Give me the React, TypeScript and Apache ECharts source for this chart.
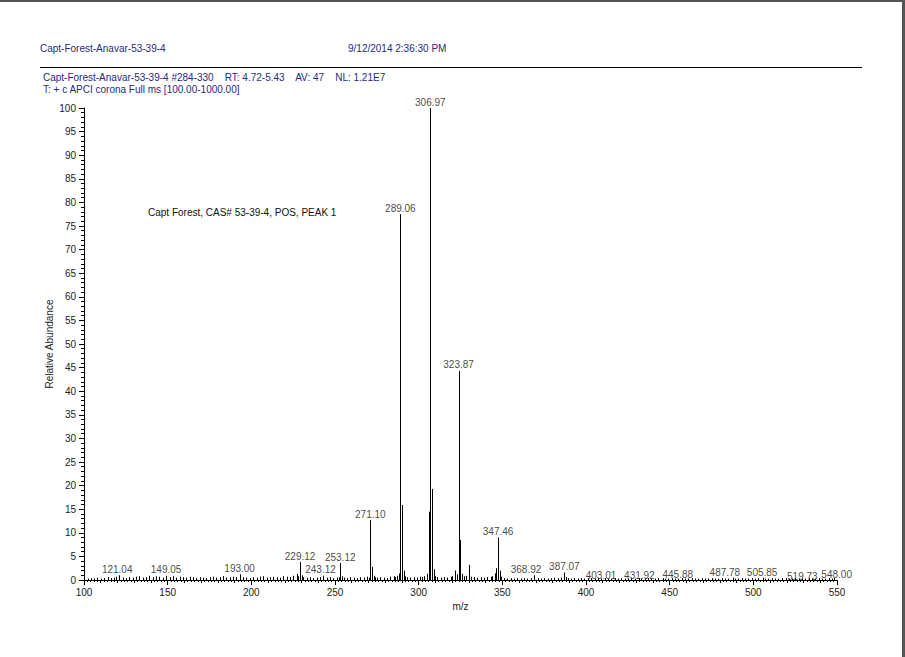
import React, { useEffect, useRef } from "react";
import * as echarts from "echarts";

// m/z of every peak (major + baseline noise)
const peakMz = [
  102.1, 104.0, 106.1, 108.0, 110.1, 112.0, 114.1, 116.0, 118.1, 119.1,
  121.04, 123.1, 125.0, 127.1, 129.0, 131.1, 133.1, 135.0, 137.1, 139.1,
  141.0, 143.1, 145.1, 147.0, 149.05, 151.1, 153.1, 155.0, 157.1, 159.1,
  161.0, 163.1, 165.1, 167.0, 169.1, 171.1, 173.0, 175.1, 177.1, 179.0,
  181.1, 183.1, 185.0, 187.1, 189.1, 191.0, 193.0, 195.1, 197.1, 199.0,
  201.1, 203.1, 205.0, 207.1, 209.1, 211.0, 213.1, 215.1, 217.0, 219.1,
  221.1, 223.0, 225.1, 227.1, 228.1, 229.12, 230.1, 231.1, 233.0, 235.1,
  237.1, 239.0, 241.1, 243.12, 245.1, 247.1, 249.0, 251.1, 252.1, 253.12,
  254.1, 255.1, 257.0, 259.1, 261.1, 263.0, 265.1, 267.1, 269.1, 270.1,
  271.1, 272.1, 273.1, 274.1, 275.0, 277.1, 279.1, 281.0, 283.1, 285.1,
  286.1, 287.1, 288.1, 289.06, 290.06, 291.0, 292.1, 293.1, 295.0, 297.1,
  299.1, 301.0, 302.1, 303.1, 304.9, 305.97, 306.97, 307.97, 308.97, 310.0,
  311.1, 313.1, 315.0, 317.1, 319.1, 320.1, 321.9, 322.9, 323.87, 324.87,
  325.9, 327.1, 328.1, 329.9, 331.0, 333.1, 335.1, 337.0, 339.1, 341.1,
  343.0, 344.1, 345.5, 346.5, 347.46, 348.5, 349.1,
  351.1, 353.0, 355.1, 357.1, 359.0, 361.1, 363.1, 365.0, 367.1, 368.92,
  371.1, 373.0, 375.1, 377.1, 379.0, 381.1, 383.1, 385.0, 387.07, 388.1,
  389.1, 391.0, 393.1, 395.1, 397.0, 399.1, 401.1, 403.01, 405.1, 407.0,
  409.1, 411.1, 413.0, 415.1, 417.1, 419.0, 421.1, 423.1, 425.0, 427.1,
  429.1, 431.92, 433.1, 435.0, 437.1, 439.1, 441.0, 443.1, 445.88, 447.1,
  449.0, 451.1, 453.1, 455.0, 457.1, 459.1, 461.0, 463.1, 465.1, 467.0,
  469.1, 471.1, 473.0, 475.1, 477.1, 479.0, 481.1, 483.1, 485.0, 487.78,
  489.1, 491.0, 493.1, 495.1, 497.0, 499.1, 501.1, 503.0, 505.85, 507.1,
  509.0, 511.1, 513.1, 515.0, 517.1, 519.73, 521.1, 523.0, 525.1, 527.1,
  529.0, 531.1, 533.1, 535.0, 537.1, 539.1, 541.0, 543.1, 545.1, 546.9,
  548.0,
];

// relative abundance (%) of each peak, same order as peakMz
const peakAbundance = [
  0.3, 0.4, 0.3, 0.5, 0.3, 0.4, 0.6, 0.4, 0.5, 0.7,
  1.0, 0.5, 0.4, 0.6, 0.5, 0.7, 0.8, 0.5, 0.6, 0.9,
  0.6, 0.8, 0.7, 0.5, 0.9, 0.6, 0.8, 0.5, 0.7, 0.6,
  0.5, 0.7, 0.6, 0.4, 0.6, 0.5, 0.4, 0.6, 0.7, 0.5,
  0.6, 0.8, 0.5, 0.6, 0.7, 0.6, 1.2, 0.6, 0.5, 0.4,
  0.6, 0.5, 0.7, 0.8, 0.5, 0.6, 0.7, 0.6, 0.5, 0.8,
  0.7, 0.6, 0.9, 1.3, 0.8, 3.8, 1.0, 0.6, 0.5, 0.6,
  0.4, 0.5, 0.6, 0.9, 0.5, 0.6, 0.4, 0.5, 0.6, 3.6,
  0.8, 0.5, 0.4, 0.6, 0.5, 0.4, 0.6, 0.5, 0.7, 0.5,
  12.7, 2.8, 0.9, 0.6, 0.5, 0.6, 0.5, 0.4, 0.7, 0.8,
  0.6, 0.9, 1.4, 77.5, 15.9, 2.0, 0.8, 0.6, 0.5, 0.6,
  0.5, 0.7, 0.6, 0.8, 1.3, 14.5, 100, 19.3, 2.3, 0.8,
  0.6, 0.5, 0.6, 0.5, 0.7, 0.8, 2.0, 1.2, 44.3, 8.5,
  1.3, 0.8, 0.9, 3.2, 0.7, 0.6, 0.5, 0.6, 0.5, 0.6,
  0.7, 0.8, 1.4, 2.5, 9.0, 2.0, 0.7,
  0.4, 0.3, 0.4, 0.3, 0.4, 0.3, 0.4, 0.3, 0.4, 1.0,
  0.4, 0.3, 0.4, 0.3, 0.4, 0.5, 0.4, 0.5, 1.6, 0.6,
  0.4, 0.3, 0.4, 0.3, 0.4, 0.3, 0.4, 0.4, 0.3, 0.4,
  0.3, 0.4, 0.3, 0.3, 0.4, 0.3, 0.4, 0.3, 0.3, 0.4,
  0.3, 0.4, 0.3, 0.3, 0.4, 0.3, 0.3, 0.4, 0.4, 0.3,
  0.3, 0.4, 0.3, 0.3, 0.4, 0.3, 0.3, 0.4, 0.3, 0.3,
  0.4, 0.3, 0.3, 0.4, 0.3, 0.3, 0.4, 0.3, 0.3, 0.5,
  0.3, 0.3, 0.4, 0.3, 0.3, 0.4, 0.3, 0.4, 0.5, 0.3,
  0.3, 0.4, 0.3, 0.3, 0.4, 0.4, 0.3, 0.3, 0.4, 0.3,
  0.3, 0.3, 0.4, 0.3, 0.3, 0.4, 0.3, 0.3, 0.4, 0.3,
  0.4,
];

// peaks that carry an m/z label
const labeledMz = [
  121.04, 149.05, 193.0, 229.12, 243.12, 253.12, 271.1, 289.06, 306.97, 323.87,
  347.46, 368.92, 387.07, 403.01, 431.92, 445.88, 487.78, 505.85, 519.73, 548.0,
];

// label nudges in pixels [dx, dy] so crowded baseline labels sit apart (style only)
const labelNudge: [number, number][] = [
  [-2, 0], [0, 0], [0, 0], [0, 0], [-3, 0], [0, 0], [0, 0], [0, 0], [0, 0], [0, 0],
  [0, 0], [-8, 0], [0, 0], [10, 3], [0, 3], [15, 2], [-8, 1], [-1, 1], [16, 4], [3, 2],
];

const yTicks = { min: 0, max: 100, step: 5 };
const xTicks = { min: 100, max: 550, step: 10, labelStep: 50 };

const headerTitle = "Capt-Forest-Anavar-53-39-4";
const headerDate = "9/12/2014 2:36:30 PM";
const infoLine1 = "Capt-Forest-Anavar-53-39-4 #284-330    RT: 4.72-5.43    AV: 47    NL: 1.21E7";
const infoLine2 = "T: + c APCI corona Full ms [100.00-1000.00]";
const annotation = "Capt Forest, CAS# 53-39-4, POS, PEAK 1";

export default function App() {
  const ref = useRef<HTMLDivElement>(null);

  useEffect(() => {
    if (!ref.current) return;
    const chart = echarts.init(ref.current, undefined, { renderer: "svg" });
    const peaks = peakMz.map((m, i) => [m, peakAbundance[i]]);
    const labelData = labeledMz.map((m, k) => {
      const i = peakMz.indexOf(m);
      return { value: [m, peakAbundance[i]], label: { offset: labelNudge[k] } };
    });
    const font = "'Liberation Sans', Arial, sans-serif";
    const navy = "#1f2a80";

    chart.setOption({
      animation: false,
      backgroundColor: "#ffffff",
      textStyle: { fontFamily: font },
      grid: { left: 84, right: 68, top: 108, bottom: 77, containLabel: false },
      xAxis: [
        {
          type: "value",
          min: xTicks.min,
          max: xTicks.max,
          interval: xTicks.step,
          name: "m/z",
          nameLocation: "middle",
          nameGap: 21,
          nameTextStyle: { color: "#222", fontSize: 10, fontFamily: font },
          axisLine: { show: true, lineStyle: { color: "#000", width: 1 } },
          axisTick: { show: true, length: 3, lineStyle: { color: "#000" } },
          minorTick: { show: true, splitNumber: 5, length: 2, lineStyle: { color: "#000" } },
          axisLabel: {
            color: "#222",
            fontSize: 10,
            fontFamily: font,
            margin: 7,
            formatter: (v: number) => (v % xTicks.labelStep === 0 ? String(v) : ""),
          },
          splitLine: { show: false },
        },
        {
          type: "value",
          min: xTicks.min,
          max: xTicks.max,
          interval: xTicks.labelStep,
          position: "bottom",
          axisLine: { show: false },
          axisTick: { show: true, length: 5, lineStyle: { color: "#000" } },
          axisLabel: { show: false },
          splitLine: { show: false },
        },
      ],
      yAxis: {
        type: "value",
        min: yTicks.min,
        max: yTicks.max,
        interval: yTicks.step,
        name: "Relative Abundance",
        nameLocation: "middle",
        nameGap: 30,
        nameMoveOverlap: false,
        nameTextStyle: { color: "#222", fontSize: 10, fontFamily: font },
        axisLine: { show: true, lineStyle: { color: "#000", width: 1 } },
        axisTick: { show: true, length: 5, lineStyle: { color: "#000" } },
        minorTick: { show: true, splitNumber: 5, length: 3, lineStyle: { color: "#000" } },
        axisLabel: { color: "#222", fontSize: 10, fontFamily: font, margin: 8 },
        splitLine: { show: false },
      },
      series: [
        {
          type: "custom",
          xAxisIndex: 0,
          coordinateSystem: "cartesian2d",
          data: peaks,
          renderItem: (params: any, api: any) => {
            const p0 = api.coord([api.value(0), 0]);
            const p1 = api.coord([api.value(0), api.value(1)]);
            const x = Math.round(p0[0]) + 0.5;
            return {
              type: "line",
              shape: { x1: x, y1: p0[1], x2: x, y2: p1[1] },
              style: { stroke: "#000", lineWidth: 1 },
            };
          },
        },
        {
          type: "scatter",
          xAxisIndex: 0,
          data: labelData,
          symbolSize: 0,
          silent: true,
          label: {
            show: true,
            position: "top",
            distance: 1,
            color: "#111",
            fontSize: 10,
            fontFamily: font,
            formatter: (p: any) => p.value[0].toFixed(2),
          },
        },
      ],
      graphic: [
        { type: "rect", shape: { x: 0, y: 0, width: 905, height: 2 }, style: { fill: "#555" } },
        { type: "rect", shape: { x: 902, y: 0, width: 3, height: 657 }, style: { fill: "#555" } },
        {
          type: "text",
          x: 40,
          y: 43,
          style: { text: headerTitle, fill: navy, fontSize: 10, fontFamily: font },
        },
        {
          type: "text",
          x: 348,
          y: 43,
          style: { text: headerDate, fill: navy, fontSize: 10, fontFamily: font },
        },
        {
          type: "line",
          shape: { x1: 40, y1: 67.5, x2: 862, y2: 67.5 },
          style: { stroke: "#000", lineWidth: 1 },
        },
        {
          type: "text",
          x: 43,
          y: 72,
          style: { text: infoLine1, fill: navy, fontSize: 10, fontFamily: font },
        },
        {
          type: "text",
          x: 43,
          y: 84,
          style: { text: infoLine2, fill: navy, fontSize: 10, fontFamily: font },
        },
        {
          type: "text",
          x: 148,
          y: 207,
          style: { text: annotation, fill: "#111", fontSize: 10, fontFamily: font },
        },
      ],
    });
    return () => chart.dispose();
  }, []);

  return (
    <div
      ref={ref}
      style={{ position: "fixed", left: 0, top: 0, width: 905, height: 657, background: "#fff" }}
    />
  );
}
